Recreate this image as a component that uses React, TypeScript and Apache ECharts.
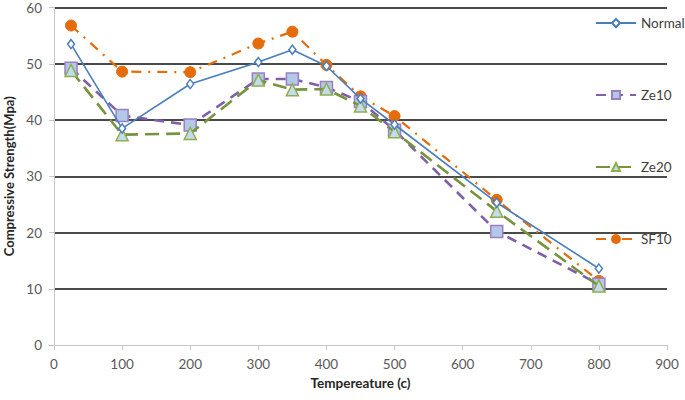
import React, { useEffect, useRef } from "react";
import * as echarts from "echarts";

const temperatures = [25, 100, 200, 300, 350, 400, 450, 500, 650, 800];
const normal = [53.5, 38.5, 46.4, 50.3, 52.5, 49.6, 43.8, 39.2, 25.3, 13.6];
const ze10 = [49.2, 40.8, 39.1, 47.3, 47.3, 45.8, 43.3, 38.2, 20.2, 10.8];
const ze20 = [48.8, 37.4, 37.6, 47.1, 45.4, 45.5, 42.5, 37.9, 23.8, 10.5];
const sf10 = [56.8, 48.6, 48.5, 53.6, 55.7, 49.8, 44.2, 40.7, 25.8, 11.4];
const seriesNames = ["Normal", "Ze10", "Ze20", "SF10"];

const FONT = "Lato, 'Open Sans', sans-serif";

function pairs(vals: number[]) {
  return temperatures.map((t, i) => [t, vals[i]]);
}

export default function App() {
  const ref = useRef<HTMLDivElement>(null);
  useEffect(() => {
    if (!ref.current) return;
    const chart = echarts.init(ref.current, undefined, { renderer: "svg" });
    const gridColor = "#4a4a4a";
    chart.setOption({
      animation: false,
      backgroundColor: "#ffffff",
      textStyle: { fontFamily: FONT },
      grid: { left: 54, right: 18, top: 7.5, bottom: 55, containLabel: false, outerBoundsMode: "none" },
      legend: {
        orient: "vertical",
        left: 590,
        top: 11,
        itemWidth: 40,
        itemHeight: 10,
        itemGap: 58,
        textStyle: { color: "#404040", fontSize: 13.5, fontFamily: FONT },
        data: seriesNames,
      },
      xAxis: {
        type: "value",
        min: 0,
        max: 900,
        interval: 100,
        name: "Tempereature (c)",
        nameLocation: "middle",
        nameGap: 25,
        nameTextStyle: { fontWeight: "bold", fontSize: 13.5, color: "#262626", fontFamily: FONT },
        axisLine: { show: true, lineStyle: { color: "#c8c8c8", width: 1 } },
        axisTick: { show: true, length: 5, lineStyle: { color: "#c8c8c8" } },
        axisLabel: { color: "#595959", fontSize: 13.5, margin: 12, fontFamily: FONT },
        splitLine: { show: false },
      },
      yAxis: {
        type: "value",
        min: 0,
        max: 60,
        interval: 10,
        name: "Compressive Strength(Mpa)",
        nameLocation: "middle",
        nameGap: 38,
        nameTextStyle: { fontWeight: "bold", fontSize: 13, color: "#262626", fontFamily: FONT },
        axisLine: { show: true, lineStyle: { color: "#c8c8c8", width: 1 } },
        axisTick: { show: true, length: 5, lineStyle: { color: "#c8c8c8" } },
        axisLabel: { color: "#595959", fontSize: 13.5, margin: 12, fontFamily: FONT },
        splitLine: {
          show: true,
          lineStyle: {
            color: ["rgba(0,0,0,0)", gridColor, gridColor, gridColor, gridColor, gridColor, gridColor],
            width: 1.8,
          },
        },
      },
      series: [
        {
          name: "Normal",
          type: "line",
          data: pairs(normal),
          symbol: "diamond",
          symbolSize: [7, 9],
          lineStyle: { color: "#4a7ebb", width: 1.6, type: "solid" },
          itemStyle: { color: "#ffffff", borderColor: "#4a7ebb", borderWidth: 1.5 },
          z: 4,
        },
        {
          name: "Ze10",
          type: "line",
          data: pairs(ze10),
          symbol: "rect",
          symbolSize: [12, 12],
          lineStyle: { color: "#7f5fa8", width: 2.6, type: [10, 7] },
          itemStyle: { color: "#b3c8e6", borderColor: "#9b7fc4", borderWidth: 1.5 },
          z: 2,
        },
        {
          name: "Ze20",
          type: "line",
          data: pairs(ze20),
          symbol: "triangle",
          symbolSize: [12, 12],
          lineStyle: { color: "#77933c", width: 2.6, type: [14, 7] },
          itemStyle: { color: "#c5d9f1", borderColor: "#8db04a", borderWidth: 1.5 },
          z: 3,
        },
        {
          name: "SF10",
          type: "line",
          data: pairs(sf10),
          symbol: "circle",
          symbolSize: 11,
          lineStyle: { color: "#e46c0a", width: 2.2, type: [10, 7, 2, 7] },
          itemStyle: { color: "#e46c0a", borderColor: "#e46c0a", borderWidth: 1 },
          z: 1,
        },
      ],
    });
    return () => chart.dispose();
  }, []);
  return (
    <div
      ref={ref}
      style={{ position: "fixed", left: 0, top: 0, width: 685, height: 400, background: "#fff" }}
    />
  );
}
